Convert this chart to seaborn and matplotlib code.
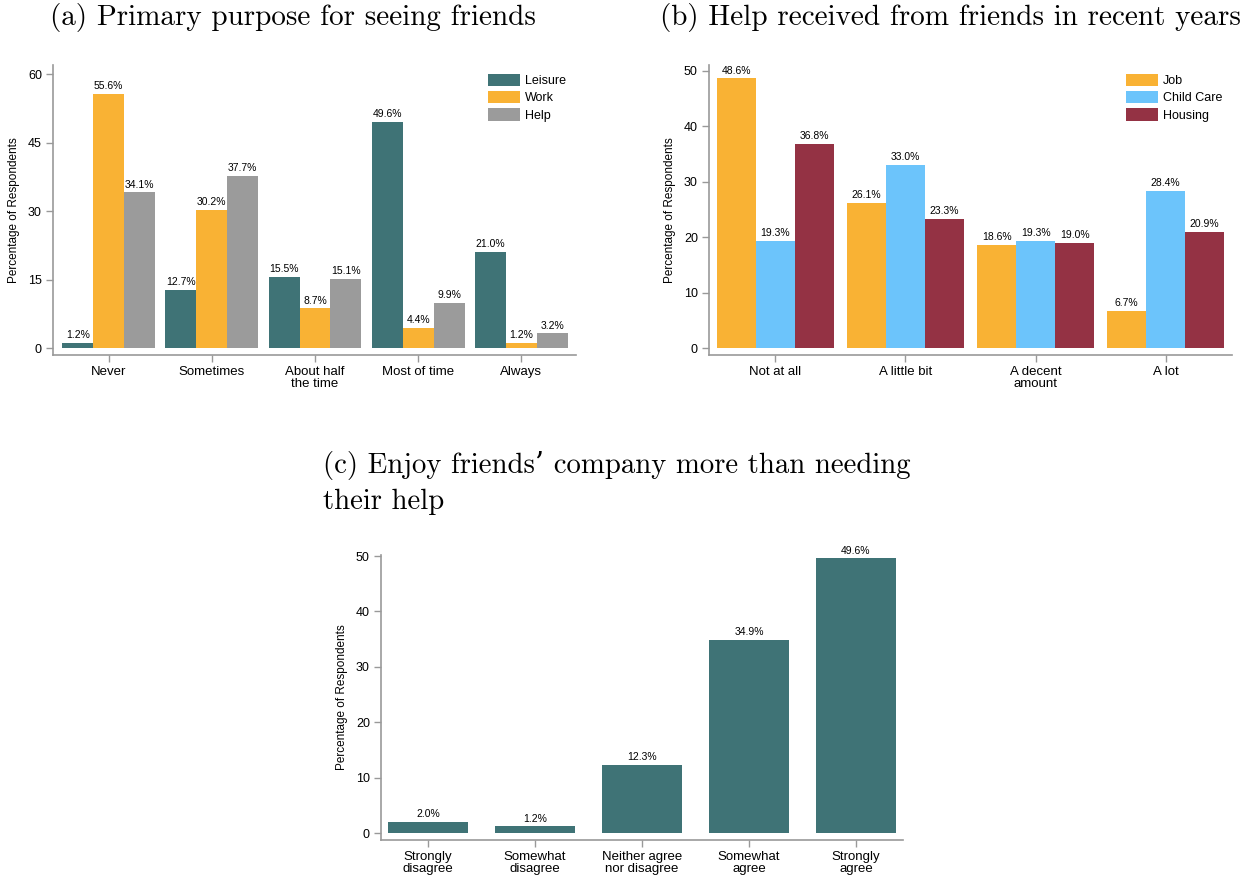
import numpy as np
import pandas as pd
import seaborn as sns
import matplotlib.pyplot as plt

# panel (a) data
freq_cats = ["Never", "Sometimes", "About half\nthe time", "Most of time", "Always"]
leisure = [1.2, 12.7, 15.5, 49.6, 21.0]
work = [55.6, 30.2, 8.7, 4.4, 1.2]
help_ = [34.1, 37.7, 15.1, 9.9, 3.2]

# panel (b) data
help_cats = ["Not at all", "A little bit", "A decent\namount", "A lot"]
job = [48.6, 26.1, 18.6, 6.7]
child_care = [19.3, 33.0, 19.3, 28.4]
housing = [36.8, 23.3, 19.0, 20.9]

# panel (c) data
agree_cats = ["Strongly\ndisagree", "Somewhat\ndisagree", "Neither agree\nnor disagree",
              "Somewhat\nagree", "Strongly\nagree"]
enjoy = [2.0, 1.2, 12.3, 34.9, 49.6]

TEAL = "#3f7376"
ORANGE = "#f9b234"
GRAY = "#9b9b9b"
BLUE = "#6cc4fb"
RED = "#943244"
AXC = "#999999"

sns.set_style("white")
plt.rcParams["font.family"] = ["Liberation Sans", "DejaVu Sans"]
plt.rcParams["text.color"] = "black"
plt.rcParams["axes.labelcolor"] = "black"
plt.rcParams["xtick.color"] = "black"
plt.rcParams["ytick.color"] = "black"

fig = plt.figure(figsize=(12.45, 8.75), dpi=100)
W, H = 1245, 875


def px_axes(x0, x1, y0, y1):
    return fig.add_axes([x0 / W, 1 - y1 / H, (x1 - x0) / W, (y1 - y0) / H])


def style(ax, yticks, ylim, xlim):
    ax.set_ylim(*ylim)
    ax.set_xlim(*xlim)
    ax.set_yticks(yticks)
    for s in ["top", "right"]:
        ax.spines[s].set_visible(False)
    for s in ["left", "bottom"]:
        ax.spines[s].set_color(AXC)
        ax.spines[s].set_linewidth(1.2)
    ax.tick_params(axis="both", direction="out", length=5, width=1, color=AXC,
                   labelsize=9, pad=3, bottom=True, left=True,
                   labelcolor="black")
    ax.tick_params(axis="x", labelsize=9.5)
    ax.set_xlabel("")
    ax.set_ylabel("Percentage of Respondents", fontsize=8.5, labelpad=6)
    for lab in ax.get_xticklabels():
        lab.set_linespacing(0.95)


def labels(ax):
    for c in ax.containers:
        ax.bar_label(c, fmt="%.1f%%", fontsize=7.5, padding=2)


def legend(ax, x):
    ax.legend(loc="upper left", bbox_to_anchor=(x, 1.0), frameon=False,
              fontsize=9, handlelength=2.6, handleheight=1.15, labelspacing=0.3,
              handletextpad=0.35, borderaxespad=0.3)


title_font = ["cmr10", "DejaVu Serif"]

# (a)
df_a = pd.DataFrame({
    "cat": freq_cats * 3,
    "val": leisure + work + help_,
    "grp": ["Leisure"] * 5 + ["Work"] * 5 + ["Help"] * 5,
})
ax_a = px_axes(53, 576, 65, 355)
sns.barplot(data=df_a, x="cat", y="val", hue="grp", order=freq_cats,
            hue_order=["Leisure", "Work", "Help"], palette=[TEAL, ORANGE, GRAY],
            width=0.9, ax=ax_a, saturation=1, edgecolor="none")
style(ax_a, [0, 15, 30, 45, 60], (-1.53, 62), (-0.54, 4.53))
labels(ax_a)
legend(ax_a, 0.815)
fig.text(50 / W, 1 - 18 / H, "(a) Primary purpose for seeing friends",
         family=title_font, fontsize=21, va="center", ha="left")

# (b)
df_b = pd.DataFrame({
    "cat": help_cats * 3,
    "val": job + child_care + housing,
    "grp": ["Job"] * 4 + ["Child Care"] * 4 + ["Housing"] * 4,
})
ax_b = px_axes(709, 1232, 65, 355)
sns.barplot(data=df_b, x="cat", y="val", hue="grp", order=help_cats,
            hue_order=["Job", "Child Care", "Housing"], palette=[ORANGE, BLUE, RED],
            width=0.9, ax=ax_b, saturation=1, edgecolor="none")
style(ax_b, [0, 10, 20, 30, 40, 50], (-1.26, 51.03), (-0.51, 3.51))
labels(ax_b)
legend(ax_b, 0.78)
fig.text(660 / W, 1 - 18 / H, "(b) Help received from friends in recent years",
         family=title_font, fontsize=21, va="center", ha="left")

# (c)
df_c = pd.DataFrame({"cat": agree_cats, "val": enjoy})
ax_c = px_axes(381, 903, 555, 840)
sns.barplot(data=df_c, x="cat", y="val", order=agree_cats, color=TEAL,
            width=0.75, ax=ax_c, saturation=1, edgecolor="none")
style(ax_c, [0, 10, 20, 30, 40, 50], (-1.26, 50.2), (-0.44, 4.44))
labels(ax_c)
fig.text(323 / W, 1 - 451 / H, "(c) Enjoy friends\u2019 company more than needing\ntheir help",
         family=title_font, fontsize=20.7, va="top", ha="left", linespacing=1.42)

fig.savefig("out.png", dpi=100)
